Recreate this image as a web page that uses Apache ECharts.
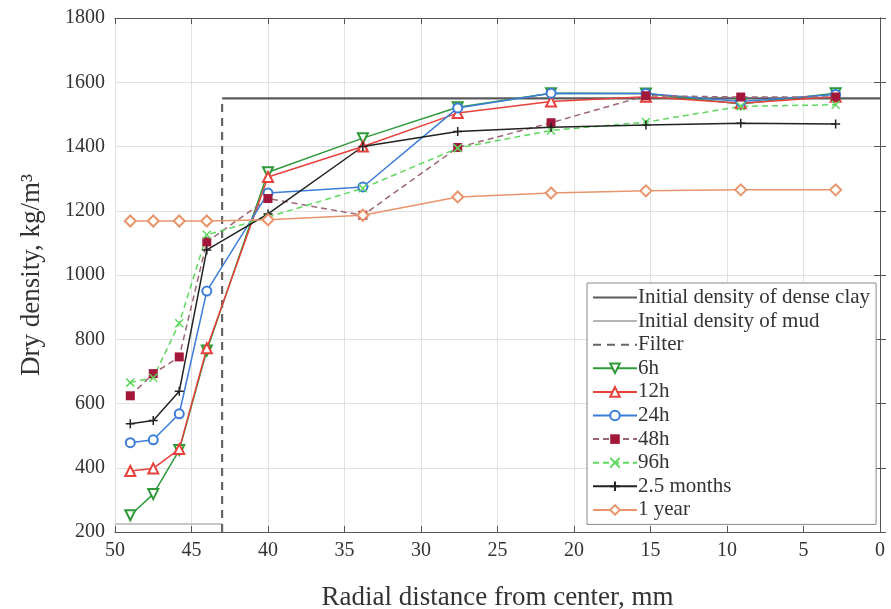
<!DOCTYPE html>
<html>
<head>
<meta charset="utf-8">
<script src="https://cdn.jsdelivr.net/npm/echarts@6/dist/echarts.min.js"></script>
<style>
html,body{margin:0;padding:0;background:#fff;}
#chart{width:891px;height:609px;}
</style>
</head>
<body>
<div id="chart"></div>
<script>
// ---- data ----
const radialPositions = [49, 47.5, 45.8, 44, 40, 33.8, 27.6, 21.5, 15.3, 9.1, 2.9];
const h6 = [252, 318, 455, 765, 1320, 1426, 1522, 1566, 1565, 1532, 1566];
const h12 = [390, 398, 458, 772, 1305, 1400, 1504, 1540, 1555, 1535, 1555];
const h24 = [478, 487, 568, 950, 1255, 1274, 1520, 1566, 1565, 1540, 1562];
const h48 = [624, 693, 745, 1103, 1238, 1186, 1397, 1474, 1558, 1554, 1554];
const h96 = [665, 680, 850, 1125, 1180, 1270, 1395, 1450, 1476, 1525, 1530];
const months25 = [537, 547, 638, 1078, 1190, 1400, 1447, 1460, 1467, 1472, 1470];
const year1 = [1168, 1168, 1168, 1168, 1172, 1186, 1243, 1255, 1262, 1265, 1265];

const denseClayX = [43, 0];
const denseClayY = [1550, 1550];
const mudX = [50, 43];
const mudY = [225, 225];
const filterX = [43, 43];
const filterY = [200, 1550];

const xTicks = {min: 0, max: 50, interval: 5};
const yTicks = {min: 200, max: 1800, interval: 200};

// ---- helpers ----
function pairs(xs, ys) { return xs.map((x, i) => [x, ys[i]]); }

const FONT = 'Liberation Serif';
const plusPath = 'path://M5,0L5,10M0,5L10,5';
const crossPath = 'path://M0,0L10,10M10,0L0,10';
const hiddenPath = 'path://M0,0L10,0L10,10L0,10Z';

function lineSeries(name, xs, ys, color, lw, dash, z) {
  return {
    name, type: 'line', data: pairs(xs, ys), symbol: hiddenPath, showSymbol: false, z: z || 2,
    lineStyle: {color, width: lw, type: dash ? [8, 6] : 'solid'},
    itemStyle: {color: 'rgba(0,0,0,0)', borderWidth: 0, opacity: 0},
    emphasis: {disabled: true}, animation: false
  };
}
function markerSeries(name, ys, opts) {
  return {
    name, type: 'line', data: pairs(radialPositions, ys),
    symbol: opts.symbol, symbolSize: opts.size || 9, symbolRotate: opts.rotate || 0,
    showAllSymbol: true, z: opts.z || 3,
    lineStyle: {color: opts.lineColor || opts.color, width: 1.5, type: opts.dashed ? [6, 4] : 'solid'},
    itemStyle: Object.assign({color: opts.color, borderWidth: 1.3}, opts.itemStyle || {}),
    emphasis: {disabled: true}, animation: false
  };
}

const chart = echarts.init(document.getElementById('chart'), null, {renderer: 'canvas'});

const axisLabelStyle = {color: '#333', fontFamily: FONT, fontSize: 20};
const axisLineStyle = {lineStyle: {color: '#555', width: 1}};
const splitLineStyle = {show: true, lineStyle: {color: '#e2e2e2', width: 1}};
const plainNum = v => String(v);

const legendNames = ['Initial density of dense clay', 'Initial density of mud', 'Filter', '6h', '12h', '24h', '48h', '96h', '2.5 months', '1 year'];

const option = {
  backgroundColor: '#fff',
  animation: false,
  grid: {left: 115, right: 11, top: 18, bottom: 77, containLabel: false, outerBoundsMode: 'none'},
  xAxis: [
    {
      type: 'value', inverse: true, min: xTicks.min, max: xTicks.max, interval: xTicks.interval,
      position: 'bottom',
      name: 'Radial distance from center, mm', nameLocation: 'middle', nameGap: 52,
      nameTextStyle: {color: '#333', fontFamily: FONT, fontSize: 27},
      axisLine: axisLineStyle, axisTick: {inside: true, length: 6, lineStyle: {color: '#555'}},
      axisLabel: Object.assign({margin: 9, formatter: plainNum}, axisLabelStyle),
      splitLine: splitLineStyle
    },
    {
      type: 'value', inverse: true, min: xTicks.min, max: xTicks.max, interval: xTicks.interval,
      position: 'top',
      axisLine: axisLineStyle, axisTick: {inside: true, length: 6, lineStyle: {color: '#555'}},
      axisLabel: {show: false}, splitLine: {show: false}
    }
  ],
  yAxis: [
    {
      type: 'value', min: yTicks.min, max: yTicks.max, interval: yTicks.interval,
      position: 'left',
      name: 'Dry density, kg/m³', nameLocation: 'middle', nameGap: 70, nameRotate: 90,
      nameTextStyle: {color: '#333', fontFamily: FONT, fontSize: 27},
      axisLine: Object.assign({show: true}, axisLineStyle),
      axisTick: {show: true, inside: true, length: 6, lineStyle: {color: '#555'}},
      axisLabel: Object.assign({margin: 10, formatter: plainNum}, axisLabelStyle),
      splitLine: splitLineStyle
    },
    {
      type: 'value', min: yTicks.min, max: yTicks.max, interval: yTicks.interval,
      position: 'right',
      axisLine: Object.assign({show: true}, axisLineStyle),
      axisTick: {show: true, inside: true, length: 6, lineStyle: {color: '#555'}},
      axisLabel: {show: false}, splitLine: {show: false}
    }
  ],
  legend: {
    orient: 'vertical', left: 587, top: 283,
    backgroundColor: '#fff', borderColor: '#888', borderWidth: 1,
    padding: [4, 6, 4, 5],
    itemWidth: 44, itemHeight: 12, itemGap: 2.6,
    textStyle: {color: '#333', fontFamily: FONT, fontSize: 21, padding: [0, 0, 0, -4]},
    data: legendNames.map((n, i) => i < 3 ? {name: n, itemStyle: {opacity: 0}} : n)
  },
  series: [
    lineSeries('Initial density of dense clay', denseClayX, denseClayY, '#5a5a5a', 2.2, false, 1),
    lineSeries('Initial density of mud', mudX, mudY, '#b5b5b5', 1.5, false, 1),
    lineSeries('Filter', filterX, filterY, '#666666', 2.2, true, 1),
    markerSeries('6h', h6, {symbol: 'emptyTriangle', rotate: 180, color: '#2f9a3a', size: 10}),
    markerSeries('12h', h12, {symbol: 'emptyTriangle', color: '#e8413c', size: 10}),
    markerSeries('24h', h24, {symbol: 'emptyCircle', color: '#3b7dd8', size: 9}),
    markerSeries('48h', h48, {symbol: 'rect', color: '#a3173a', lineColor: '#9c6672', dashed: true, size: 9}),
    markerSeries('96h', h96, {symbol: crossPath, color: '#5fd85f', dashed: true, size: 8,
      itemStyle: {color: 'rgba(0,0,0,0)', borderColor: '#5fd85f', borderWidth: 1.5}}),
    markerSeries('2.5 months', months25, {symbol: plusPath, color: '#222222', size: 9,
      itemStyle: {color: 'rgba(0,0,0,0)', borderColor: '#222222', borderWidth: 1.5}}),
    markerSeries('1 year', year1, {symbol: 'emptyDiamond', color: '#e8956b', size: 11})
  ]
};
chart.setOption(option);
</script>
</body>
</html>
